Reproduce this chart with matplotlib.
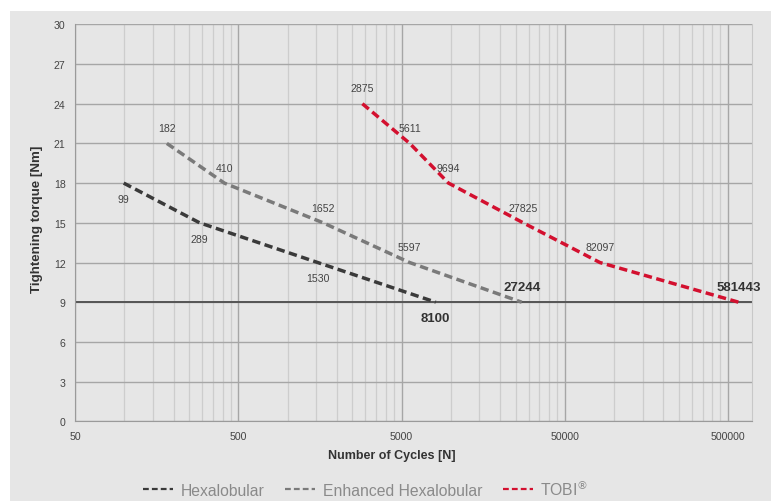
import numpy as np
from matplotlib import pyplot as plt
from matplotlib.lines import Line2D
from matplotlib.patches import Rectangle
from matplotlib.ticker import FixedLocator, FuncFormatter

plt.rcParams['font.family'] = ['Liberation Sans', 'DejaVu Sans']

# data
hexa_cycles = [99, 289, 1530, 8100]
hexa_torque = [18, 15, 12, 9]
enh_cycles = [182, 410, 1652, 5597, 27244]
enh_torque = [21, 18, 15, 12, 9]
tobi_cycles = [2875, 5611, 9694, 27825, 82097, 581443]
tobi_torque = [24, 21, 18, 15, 12, 9]
series_names = ['Hexalobular', 'Enhanced Hexalobular', 'TOBI$^{\\circledR}$']
x_ticks = [50, 500, 5000, 50000, 500000]
y_ticks = list(range(0, 31, 3))
limit_torque = 9

BG = '#e6e6e6'
colors = ['#3a3a3a', '#7a7a7a', '#d3102f']

fig = plt.figure(figsize=(7.71, 5.02), dpi=100)
fig.patch.set_facecolor('white')
fig.patches.append(Rectangle((10 / 771, 0), 1, 1 - 12 / 502, transform=fig.transFigure,
                             facecolor=BG, edgecolor='none', zorder=-5))

ax = fig.add_axes([75.3 / 771, 1 - 422.3 / 502, (751.7 - 75.3) / 771, (422.3 - 25.3) / 502])
ax.set_zorder(2)
ax.set_facecolor(BG)
ax.set_xscale('log')
ax.set_xlim(50, 700000)
ax.set_ylim(0, 30)

# excel-like log grid: minor lines at k * 50 * 10^n
minor = [k * b for b in x_ticks for k in range(2, 10) if k * b < 700000]
ax.xaxis.set_major_locator(FixedLocator(x_ticks))
ax.xaxis.set_minor_locator(FixedLocator(minor))
ax.xaxis.set_major_formatter(FuncFormatter(lambda v, p: '%d' % v))
ax.xaxis.set_minor_formatter(FuncFormatter(lambda v, p: ''))
ax.set_yticks(y_ticks)

ax.grid(which='major', axis='both', color='#a6a6a6', lw=1.0)
ax.grid(which='minor', axis='x', color='#cdcdcd', lw=0.9)
ax.set_axisbelow(True)
ax.tick_params(which='both', length=0, colors='#444444', labelsize=7.6)
ax.tick_params(axis='y', pad=7)
ax.tick_params(axis='x', pad=7)
for s in ['left', 'bottom']:
    ax.spines[s].set_color('#9a9a9a')
ax.spines['top'].set_visible(False)
ax.spines['right'].set_color('#c8c8c8')

ax.axhline(limit_torque, color='#555555', lw=1.4, zorder=2)

dash = (0, (2.4, 1.3))
ax.plot(hexa_cycles, hexa_torque, color=colors[0], lw=2.5, ls=dash, zorder=3)
ax.plot(enh_cycles, enh_torque, color=colors[1], lw=2.5, ls=dash, zorder=3)
ax.plot(tobi_cycles, tobi_torque, color=colors[2], lw=2.5, ls=dash, zorder=3)


def label(xs, ys, below):
    for i, (x, y) in enumerate(zip(xs, ys)):
        last = i == len(xs) - 1
        dy = -11.5 if below else 11
        ax.annotate(str(x), (x, y), xytext=(0, dy), textcoords='offset points',
                    ha='center', va='center', color='#333333' if last else '#444444',
                    fontsize=9.5 if last else 7.6,
                    fontweight='bold' if last else 'normal', zorder=4)


label(hexa_cycles, hexa_torque, True)
label(enh_cycles, enh_torque, False)
label(tobi_cycles, tobi_torque, False)

fig.text(36.7 / 771, 1 - 219 / 502, 'Tightening torque [Nm]', rotation=90, ha='center',
         va='center', fontsize=9.6, fontweight='bold', color='#333333')
fig.text(392 / 771, 1 - 455.7 / 502, 'Number of Cycles [N]', ha='center', va='center',
         fontsize=9, fontweight='bold', color='#333333')

handles = [Line2D([], [], color=c, lw=1.6, dashes=(2.6, 1.4)) for c in colors]
leg = fig.legend(handles, series_names, loc='center', bbox_to_anchor=(366 / 771, 1 - 489 / 502),
                 ncol=3, frameon=False, fontsize=11.3, handlelength=1.9, handletextpad=0.5,
                 columnspacing=1.3, labelcolor='#8a8a8a')

fig.savefig('out.png', dpi=100, facecolor='white')
